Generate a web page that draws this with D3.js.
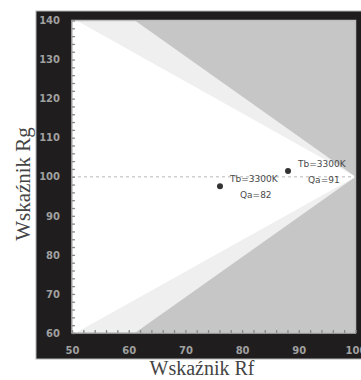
<!DOCTYPE html>
<html><head><meta charset="utf-8">
<script src="https://cdn.jsdelivr.net/npm/d3@7"></script>
<style>html,body{margin:0;padding:0;background:#fff;}svg{display:block;}</style>
</head><body>
<script>
const rfTicks = [50, 60, 70, 80, 90, 100];
const rgTicks = [60, 70, 80, 90, 100, 110, 120, 130, 140];
const minorTicksRf = d3.range(50, 101, 2);
const minorTicksRg = d3.range(60, 141, 2);
// regions in (Rf, Rg) units
const lightRegion = [[50,140],[61.1,140],[100,100],[61.1,60],[50,60]];
const whiteRegion = [[50,140],[50.8,140],[100,100],[50.6,60],[50,60]];
const pointRf = [76.1, 88.1];
const pointRg = [97.6, 101.5];
const pointTb = ["Tb=3300K", "Tb=3300K"];
const pointQa = ["Qa=82", "Qa=91"];

const W = 361, H = 380;
const svg = d3.select("body").append("svg").attr("width", W).attr("height", H);

const x = d3.scaleLinear().domain([50, 100]).range([72, 355.5]);
const y = d3.scaleLinear().domain([60, 140]).range([333, 20.5]);

// dark panel
svg.append("rect").attr("x", 36).attr("y", 11).attr("width", 330).attr("height", 348)
  .attr("fill", "#1f1d1e").attr("stroke", "#b5b5b5").attr("stroke-width", 1);

const clipId = "plotclip";
svg.append("clipPath").attr("id", clipId).append("rect")
  .attr("x", x(50)).attr("y", y(140)).attr("width", x(100) - x(50)).attr("height", y(60) - y(140));

const g = svg.append("g").attr("clip-path", `url(#${clipId})`);
g.append("rect").attr("x", x(50)).attr("y", y(140)).attr("width", x(100) - x(50)).attr("height", y(60) - y(140))
  .attr("fill", "#c6c6c6");
const line = d3.line().x(d => x(d[0])).y(d => y(d[1]));
g.append("path").attr("d", line(lightRegion) + "Z").attr("fill", "#efefef");
g.append("path").attr("d", line(whiteRegion) + "Z").attr("fill", "#ffffff");

// dashed reference line at Rg = 100
g.append("line").attr("x1", x(50)).attr("x2", x(100)).attr("y1", y(100)).attr("y2", y(100))
  .attr("stroke", "#cfcfcf").attr("stroke-width", 1.5).attr("stroke-dasharray", "3,3");

// plot border
svg.append("rect").attr("x", x(50)).attr("y", y(140)).attr("width", x(100) - x(50)).attr("height", y(60) - y(140))
  .attr("fill", "none").attr("stroke", "#bdbdbd").attr("stroke-width", 1.5);

// minor ticks (inward)
const yAxisMinor = d3.axisLeft(y).tickValues(minorTicksRg).tickSize(-3).tickFormat("");
const gy = svg.append("g").attr("transform", `translate(${x(50)},0)`).call(yAxisMinor);
gy.select(".domain").remove();
gy.selectAll("line").attr("stroke", "#8a8a8a").attr("stroke-width", 1.3);
const xAxisMinor = d3.axisBottom(x).tickValues(minorTicksRf).tickSize(-3).tickFormat("");
const gx = svg.append("g").attr("transform", `translate(0,${y(60)})`).call(xAxisMinor);
gx.select(".domain").remove();
gx.selectAll("line").attr("stroke", "#8a8a8a").attr("stroke-width", 1.3);

// tick labels
const yAxis = d3.axisLeft(y).tickValues(rgTicks).tickSize(0).tickPadding(12);
const gyl = svg.append("g").attr("transform", `translate(${x(50)},0)`).call(yAxis);
gyl.select(".domain").remove();
gyl.selectAll("text").attr("fill", "#a0a0a0").attr("font-family", "DejaVu Sans")
  .attr("font-weight", "bold").attr("font-size", 10);
const xAxis = d3.axisBottom(x).tickValues(rfTicks).tickSize(0).tickPadding(14);
const gxl = svg.append("g").attr("transform", `translate(0,${y(60)})`).call(xAxis);
gxl.select(".domain").remove();
gxl.selectAll("text").attr("fill", "#a0a0a0").attr("font-family", "DejaVu Sans")
  .attr("font-weight", "bold").attr("font-size", 10);

// points
const pts = pointRf.map((d, i) => ({rf: d, rg: pointRg[i], tb: pointTb[i], qa: pointQa[i]}));
svg.selectAll("circle.pt").data(pts).enter().append("circle").attr("class", "pt")
  .attr("cx", d => x(d.rf)).attr("cy", d => y(d.rg)).attr("r", 3).attr("fill", "#333");
const lab = svg.selectAll("g.lab").data(pts).enter().append("g").attr("class", "lab")
  .attr("transform", d => `translate(${x(d.rf)},${y(d.rg)})`);
lab.append("text").attr("x", 10).attr("y", -4).text(d => d.tb)
  .attr("font-family", "DejaVu Sans").attr("font-size", 9).attr("fill", "#4a4a4a");
lab.append("text").attr("x", 20).attr("y", 12).text(d => d.qa)
  .attr("font-family", "DejaVu Sans").attr("font-size", 9).attr("fill", "#4a4a4a");

// axis titles
svg.append("text").attr("x", 202).attr("y", 375).attr("text-anchor", "middle")
  .attr("font-family", "Liberation Serif").attr("font-size", 20).attr("fill", "#444")
  .text("Wskaźnik Rf");
svg.append("text").attr("transform", "translate(30,184) rotate(-90)").attr("text-anchor", "middle")
  .attr("font-family", "Liberation Serif").attr("font-size", 21).attr("fill", "#444")
  .text("Wskaźnik Rg");
</script>
</body></html>
